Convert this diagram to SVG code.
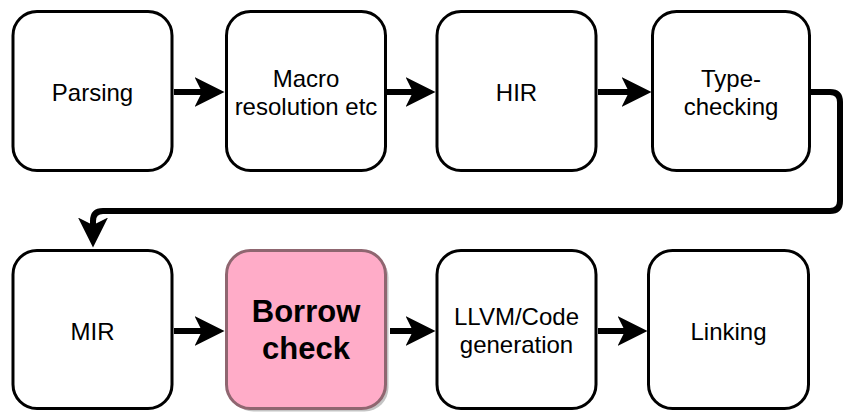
<svg xmlns="http://www.w3.org/2000/svg" width="843" height="412" viewBox="0 0 843 412">
<style>
.box{fill:#ffffff;stroke:#000000;stroke-width:3}
.hl{fill:#ffacc8;stroke:#8f6670;stroke-width:3}
.sh{fill:#c4c4c4}
.t{font-family:"Liberation Sans",Arial,Helvetica,sans-serif;font-size:24px;fill:#000000;text-anchor:middle}
.tb{font-family:"Liberation Sans",Arial,Helvetica,sans-serif;font-size:31px;font-weight:bold;fill:#000000;text-anchor:middle}
.c{fill:none;stroke:#000000;stroke-width:6;marker-end:url(#ah)}
</style>
<defs>
<marker id="ah" markerUnits="userSpaceOnUse" markerWidth="30" markerHeight="30" refX="7" refY="14" orient="auto" viewBox="0 0 28 28">
<path d="M0,0 L28,14 L0,28 L7,14 Z" fill="#000000"/>
</marker>
</defs>
<g id="n-parsing"><rect class="box" x="13" y="11.5" width="159" height="159" rx="24"/><text class="t" x="92.5" y="101">Parsing</text></g>
<g id="n-macro"><rect class="box" x="226.5" y="11.5" width="159" height="159" rx="24"/><text class="t" x="306" y="87">Macro</text><text class="t" x="306" y="115">resolution etc</text></g>
<g id="n-hir"><rect class="box" x="437" y="11.5" width="159" height="159" rx="24"/><text class="t" x="516.5" y="101">HIR</text></g>
<g id="n-type"><rect class="box" x="652.5" y="11.5" width="157" height="159" rx="24"/><text class="t" x="731" y="87">Type-</text><text class="t" x="731" y="115">checking</text></g>
<g id="n-mir"><rect class="box" x="13" y="250.5" width="159" height="158" rx="24"/><text class="t" x="92.5" y="340">MIR</text></g>
<g id="n-borrow"><rect class="sh" x="229.5" y="253.5" width="159" height="158" rx="24"/><rect class="hl" x="226.5" y="250.5" width="159" height="158" rx="24"/><text class="tb" x="306" y="322">Borrow</text><text class="tb" x="306" y="359">check</text></g>
<g id="n-llvm"><rect class="box" x="437" y="250.5" width="159" height="158" rx="24"/><text class="t" x="516.5" y="325">LLVM/Code</text><text class="t" x="516.5" y="353">generation</text></g>
<g id="n-link"><rect class="box" x="648.5" y="250.5" width="160" height="158" rx="24"/><text class="t" x="728.5" y="340">Linking</text></g>
<g id="connectors">
<path class="c" d="M174 92 H202"/>
<path class="c" d="M387 92 H413"/>
<path class="c" d="M598 92 H629"/>
<path class="c" d="M811 92 H830 Q840 92 840 102 V201 Q840 211 830 211 H103 Q93 211 93 221 V225"/>
<path class="c" d="M174 331 H202"/>
<path class="c" d="M390 331 H413"/>
<path class="c" d="M598 331 H625"/>
</g>
</svg>
